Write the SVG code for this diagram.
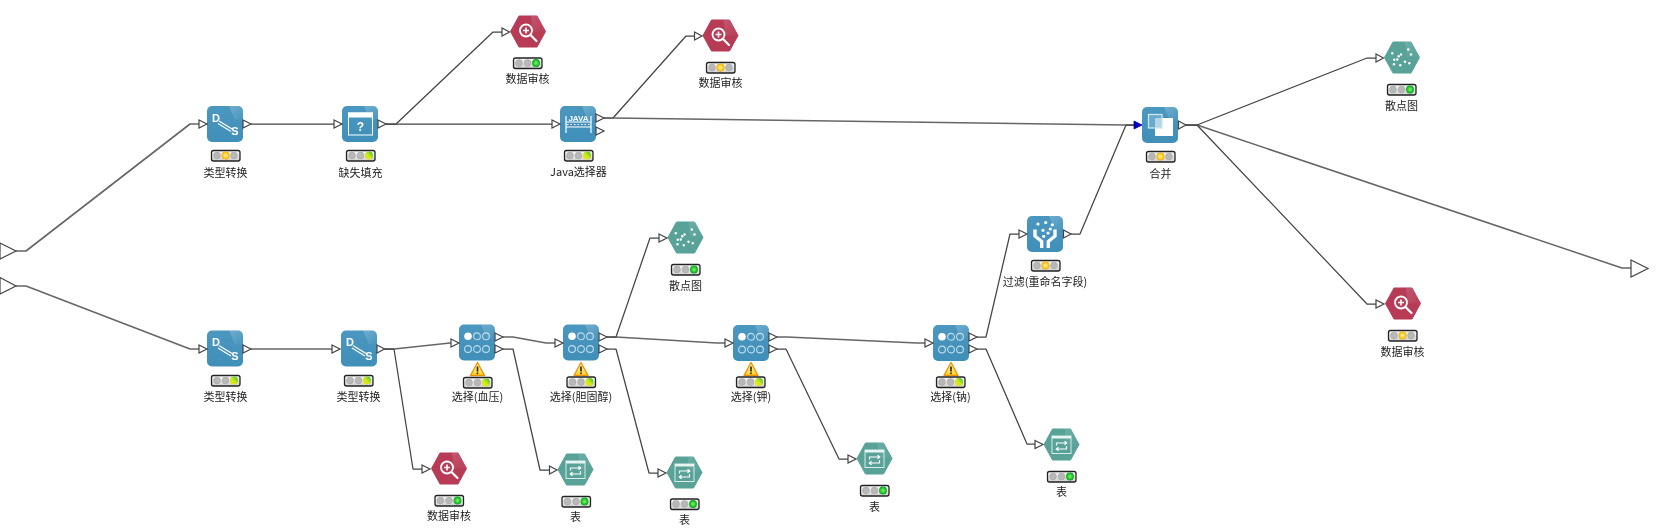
<svg xmlns="http://www.w3.org/2000/svg" width="1672" height="530" viewBox="0 0 1672 530">
<style>
text{font-family:"Noto Sans CJK SC","Noto Sans",sans-serif}
.lb{font-size:11px;fill:#222;text-anchor:middle}
.ic{font-family:"Liberation Sans",Arial,sans-serif;font-weight:bold;fill:#fff;text-anchor:middle}
.c{fill:none;stroke:#444;stroke-width:1.25;stroke-linejoin:round}
.h{stroke:#666;stroke-width:1.6}
.w{fill:none;stroke:#fff;stroke-width:1.2}
.pt{fill:#fff;stroke:#444;stroke-width:1.2;stroke-linejoin:miter}
.d{fill:#fff}
.off{fill:#b8b8b8;stroke:#a0a0a0;stroke-width:.5}
</style>
<defs>
<filter id="soft" x="0" y="0" width="1672" height="530" filterUnits="userSpaceOnUse"><feGaussianBlur stdDeviation="0.3"/></filter>
<linearGradient id="gb" x1="0" y1="0" x2="0" y2="1"><stop offset="0" stop-color="#4a97c0"/><stop offset="1" stop-color="#408fb9"/></linearGradient>
<linearGradient id="gl" x1="0" y1="0" x2="1" y2="1"><stop offset="0" stop-color="#fff" stop-opacity=".42"/><stop offset="1" stop-color="#fff" stop-opacity=".03"/></linearGradient>
<linearGradient id="lg" x1="0" y1="0" x2="0" y2="1"><stop offset="0" stop-color="#fafafa"/><stop offset="1" stop-color="#d0d0d0"/></linearGradient>
<linearGradient id="wg" x1="0" y1="0" x2="0" y2="1"><stop offset="0" stop-color="#fff6c0"/><stop offset="1" stop-color="#ffd21e"/></linearGradient>
<radialGradient id="ry"><stop offset="0" stop-color="#fff3b0"/><stop offset=".6" stop-color="#ffd42a"/><stop offset="1" stop-color="#f5a800"/></radialGradient>
<radialGradient id="rg"><stop offset="0" stop-color="#8cf07a"/><stop offset=".65" stop-color="#22cc22"/><stop offset="1" stop-color="#0fa02a"/></radialGradient>
<linearGradient id="rp" x1="0" y1="1" x2="1" y2="0"><stop offset="0" stop-color="#ffe600"/><stop offset=".5" stop-color="#c8e81a"/><stop offset="1" stop-color="#22c030"/></linearGradient>

<g id="box"><rect x="-18" y="-18" width="36" height="36" rx="5" fill="url(#gb)"/><path d="M4-18H13a5 5 0 0 1 5 5V-4L10-4Z" fill="url(#gl)" opacity=".5"/></g>
<g id="hr"><path d="M-17.500 0-9-15.500H9L17.500 0 9 15.500H-9Z" fill="#b83a56" stroke="#b83a56" stroke-linejoin="round"/><path d="M3-15.500H9L17.500 0H5Z" fill="url(#gl)" opacity=".35"/></g>
<g id="ht"><path d="M-17.500 0-9-15.500H9L17.500 0 9 15.500H-9Z" fill="#58a298" stroke="#58a298" stroke-linejoin="round"/><path d="M3-15.500H9L17.500 0H5Z" fill="url(#gl)" opacity=".3"/></g>

<g id="l"><rect x="-14" y="-5" width="28.500" height="10.500" rx="2" fill="url(#lg)" stroke="#222" stroke-width="1.300"/><circle class="off" cx="-8.500" r="3.400"/><circle class="off" cx="0" r="3.400"/><circle class="off" cx="8.500" r="3.400"/></g>
<g id="ly"><use href="#l"/><circle r="3.900" fill="url(#ry)"/></g>
<g id="lg1"><use href="#l"/><circle cx="8.500" r="3.900" fill="url(#rg)"/></g>
<g id="lp"><use href="#l"/><circle cx="8.500" r="3.900" fill="url(#rp)"/></g>

<g id="warn"><path d="M0-7 7 6H-7Z" fill="url(#wg)" stroke="#f09000" stroke-width="1.300" stroke-linejoin="round"/><rect x="-.8" y="-3" width="1.600" height="5" fill="#222"/><rect x="-.8" y="3" width="1.600" height="1.600" fill="#222"/></g>

<g id="i-ds"><text class="ic" x="-9" y="-2.500" font-size="11">D</text><text class="ic" x="10" y="11" font-size="11">S</text><path class="w" d="M-6-3 7 5M-7-.5 6 7.500"/></g>
<g id="i-sel"><circle class="d" cx="-9" cy="-6.200" r="3.800"/><g fill="none" stroke="#c4deec" stroke-width="1.100"><circle cx="0" cy="-6.200" r="3.400"/><circle cx="9" cy="-6.200" r="3.400"/><circle cx="-9" cy="6.500" r="3.400"/><circle cx="0" cy="6.500" r="3.400"/><circle cx="9" cy="6.500" r="3.400"/></g></g>
<g id="i-aud"><circle cx="-2" cy="-1" r="6" fill="none" stroke="#fff" stroke-width="1.800"/><path d="M-5-1H1M-2-4V2" stroke="#fff" stroke-width="1.600"/><path d="M3 4 8.500 9.500" stroke="#fff" stroke-width="2.200" stroke-linecap="round"/></g>
<g id="i-sc" class="d"><circle cx="-9.700" cy="-4.300" r="1.200"/><circle cx="-1" cy="-3" r="1.200"/><circle cx="6.300" cy="-8" r="1.200"/><circle cx="9" cy="-3" r="1.200"/><circle cx="-3.300" cy="-1.300" r="1.200"/><circle cx="-7.700" cy="2.300" r="1.200"/><circle cx="3" cy="4.300" r="1.200"/><circle cx="7.300" cy="5.700" r="1.200"/><circle cx="-8" cy="6.700" r="1.200"/><circle cx="-1.700" cy="7.700" r="1.200"/><circle cx="-4.700" cy="2" r="1.200"/></g>
<g id="i-tab"><rect x="-9.500" y="-8.500" width="19" height="17.500" fill="none" stroke="#d8ecea" stroke-width="1"/><rect x="-9.500" y="-8.500" width="19" height="2.500" fill="#e8f4f2"/><path d="M-5 1V-1.500H5M3-3.300 5.200-1.500 3 .3M5 1.500V4.500H-5M-3 2.700-5.200 4.500-3 6.300" fill="none" stroke="#fff" stroke-width="1.200"/></g>
</defs>

<g filter="url(#soft)">
<g id="connectors">
<polyline class="c h" points="16,251 26,251 190,124 199,124"/>
<polyline class="c h" points="16,286 26,286 190,349 199,349"/>
<polyline class="c" points="251,124 342,124"/>
<polyline class="c" points="386,124 552,124"/>
<polyline class="c" points="386,124 396,124 493,32 502,32"/>
<polyline class="c" points="604,118 613,118 686,36 694,36"/>
<polyline class="c h" points="604,118 613,118 1126,125 1134,125"/>
<polyline class="c" points="1071,234 1080,234 1126,125 1134,125"/>
<polyline class="c" points="1186,125 1197,125 1367,58 1376,58"/>
<polyline class="c h" points="1186,125 1197,125 1622,268 1631,268"/>
<polyline class="c" points="1186,125 1197,125 1367,304 1376,304"/>
<polyline class="c h" points="251,349 332,349"/>
<polyline class="c h" points="384,349 394,349 450,343 451,343"/>
<polyline class="c" points="384,349 394,349 413,469 422,469"/>
<polyline class="c h" points="503,337 513,337 546,343 555,343"/>
<polyline class="c" points="503,349 513,349 540,470 549,470"/>
<polyline class="c h" points="607,337 616,337 717,343 725,343"/>
<polyline class="c" points="607,337 616,337 650,238 659,238"/>
<polyline class="c" points="607,349 616,349 649,473 658,473"/>
<polyline class="c h" points="777,337 787,337 917,343 925,343"/>
<polyline class="c" points="777,349 786,349 839,459 848,459"/>
<polyline class="c" points="977,337 986,337 1010,234 1019,234"/>
<polyline class="c" points="977,349 986,349 1027,444 1035,444"/>
</g>

<g id="in1"><path class="pt" d="M0 243 16 251 0 259Z"/></g>
<g id="in2"><path class="pt" d="M0 277.500 16 286 0 294Z"/></g>
<g id="out1"><path class="pt" d="M1631 260 1648 268.500 1631 277Z"/></g>

<g id="n-ds1"><use href="#box" x="225" y="124"/><use href="#i-ds" x="225" y="124"/><path class="pt" d="M199 120 207 124 199 128ZM243 120 251 124 243 128Z"/><use href="#ly" x="225.500" y="155.500"/><text class="lb" x="225.500" y="177">类型转换</text></g>

<g id="n-fill"><use href="#box" x="360" y="124"/><rect x="348.500" y="113" width="24" height="22" fill="none" stroke="#fff"/><rect x="348" y="112.500" width="25" height="5" fill="#fff"/><text class="ic" x="360.500" y="131" font-size="12">?</text><path class="pt" d="M334 120 342 124 334 128ZM378 120 386 124 378 128Z"/><use href="#lp" x="360.500" y="155.500"/><text class="lb" x="360.500" y="177">缺失填充</text></g>

<g id="n-java"><use href="#box" x="578" y="124"/><text class="ic" x="578.500" y="120.500" font-size="8">JAVA</text><path class="w" d="M566 116V133M591 116V133M566 122H591M566 127H591"/><path d="M567 124.500H591" stroke="#fff" stroke-width="1" stroke-dasharray="1.500 2"/><path class="pt" d="M552 120 560 124 552 128ZM596 114 604 118 596 122ZM596 127 604 131 596 135Z"/><use href="#lp" x="578.500" y="155.500"/><text class="lb" x="578.500" y="176">Java选择器</text></g>

<g id="n-audit1"><use href="#hr" x="528" y="31.500"/><use href="#i-aud" x="528" y="31.500"/><path class="pt" d="M502 28 509.500 32 502 36Z"/><use href="#lg1" x="527.500" y="63"/><text class="lb" x="527.500" y="83">数据审核</text></g>

<g id="n-audit2"><use href="#hr" x="720.500" y="35.500"/><use href="#i-aud" x="720.500" y="35.500"/><path class="pt" d="M694.500 32 702 36 694.500 40Z"/><use href="#ly" x="720.500" y="67.500"/><text class="lb" x="720.500" y="87">数据审核</text></g>

<g id="n-merge"><use href="#box" x="1160" y="125"/><path d="M1155 118H1173V136H1155Z" fill="#fff"/><rect x="1148.500" y="114.500" width="13.500" height="13.500" fill="#7fb8d6" fill-opacity=".6" stroke="#cfe5f0" stroke-width="1.300"/><path d="M1134 121 1142 125 1134 129Z" fill="#0000c8" stroke="#000090" stroke-width=".8"/><path class="pt" d="M1178.500 121 1186 125 1178.500 129Z"/><use href="#ly" x="1160.500" y="156.500"/><text class="lb" x="1160.500" y="178">合并</text></g>

<g id="n-scatter1"><use href="#ht" x="1402" y="57.500"/><use href="#i-sc" x="1402" y="57.500"/><path class="pt" d="M1376 54 1383.500 58 1376 62Z"/><use href="#lg1" x="1401.500" y="89.500"/><text class="lb" x="1401.500" y="110">散点图</text></g>

<g id="n-audit3"><use href="#hr" x="1403" y="303.500"/><use href="#i-aud" x="1403" y="303.500"/><path class="pt" d="M1376 300 1384 304 1376 308Z"/><use href="#ly" x="1402.500" y="335.500"/><text class="lb" x="1402.500" y="356">数据审核</text></g>

<g id="n-ds2"><use href="#box" x="225" y="348.500"/><use href="#i-ds" x="225" y="348.500"/><path class="pt" d="M199 345 207 349 199 353ZM243 345 251 349 243 353Z"/><use href="#lp" x="225.500" y="380.500"/><text class="lb" x="225.500" y="401">类型转换</text></g>

<g id="n-ds3"><use href="#box" x="359" y="348.500"/><use href="#i-ds" x="359" y="348.500"/><path class="pt" d="M332 345 340 349 332 353ZM377 345 384.500 349 377 353Z"/><use href="#lp" x="358.500" y="380.500"/><text class="lb" x="358.500" y="401">类型转换</text></g>

<g id="n-audit4"><use href="#hr" x="449" y="468.500"/><use href="#i-aud" x="449" y="468.500"/><path class="pt" d="M422 465 430 469 422 473Z"/><use href="#lg1" x="449" y="500.500"/><text class="lb" x="449" y="520">数据审核</text></g>

<g id="n-sel1"><use href="#box" x="477" y="342.500"/><use href="#i-sel" x="477" y="342.500"/><path class="pt" d="M451 339 459 343 451 347ZM495 333 503 337 495 341ZM495 345 503 349 495 353Z"/><use href="#warn" x="477.500" y="369.500"/><use href="#lp" x="477.500" y="382.500"/><text class="lb" x="477.500" y="401">选择(血压)</text></g>

<g id="n-sel2"><use href="#box" x="581" y="342.500"/><use href="#i-sel" x="581" y="342.500"/><path class="pt" d="M555 339 563 343 555 347ZM599 333 607 337 599 341ZM599 345 607 349 599 353Z"/><use href="#warn" x="581" y="369.500"/><use href="#lp" x="581" y="382"/><text class="lb" x="581" y="401">选择(胆固醇)</text></g>

<g id="n-sel3"><use href="#box" x="751" y="343"/><use href="#i-sel" x="751" y="343"/><path class="pt" d="M725 339 733 343 725 347ZM769 333 777 337 769 341ZM769 345 777 349 769 353Z"/><use href="#warn" x="751" y="369.500"/><use href="#lp" x="750.500" y="382"/><text class="lb" x="751" y="401">选择(钾)</text></g>

<g id="n-sel4"><use href="#box" x="951" y="343"/><use href="#i-sel" x="951" y="343"/><path class="pt" d="M925 339 933 343 925 347ZM969 333 977 337 969 341ZM969 345 977 349 969 353Z"/><use href="#warn" x="951" y="369.500"/><use href="#lp" x="950.500" y="382"/><text class="lb" x="950.500" y="401">选择(钠)</text></g>

<g id="n-scatter2"><use href="#ht" x="685.500" y="237.500"/><use href="#i-sc" x="685.500" y="237.500"/><path class="pt" d="M659 234 667 238 659 242Z"/><use href="#lg1" x="685.500" y="269.500"/><text class="lb" x="685.500" y="290">散点图</text></g>

<g id="n-filter"><use href="#box" x="1045" y="234"/><g fill="#fff"><circle cx="1038" cy="224" r="1.600"/><circle cx="1045.700" cy="222.500" r="1.600"/><circle cx="1052.300" cy="224.800" r="1.600"/><circle cx="1043" cy="230.300" r="1.600"/><circle cx="1048" cy="233" r="1.600"/><circle cx="1043.700" cy="236.300" r="1.600"/><circle cx="1050.300" cy="229" r="1.600"/></g><path d="M1035 229.500V236L1041.700 241.500V248M1055 229.500V236L1048.300 241.500V248" fill="none" stroke="#fff" stroke-width="3.400"/><path class="pt" d="M1019 230 1027 234 1019 238ZM1063.500 230 1071 234 1063.500 238Z"/><use href="#ly" x="1045.500" y="265.500"/><text class="lb" x="1045" y="286">过滤(重命名字段)</text></g>

<g id="n-tab1"><use href="#ht" x="575.500" y="469.500"/><use href="#i-tab" x="575.500" y="469.500"/><path class="pt" d="M549.500 466 557 470 549.500 474Z"/><use href="#lg1" x="576" y="501.500"/><text class="lb" x="575.500" y="521">表</text></g>

<g id="n-tab2"><use href="#ht" x="684.500" y="472.500"/><use href="#i-tab" x="684.500" y="472.500"/><path class="pt" d="M658 469 666 473 658 477Z"/><use href="#lg1" x="684.500" y="504"/><text class="lb" x="684.500" y="524">表</text></g>

<g id="n-tab3"><use href="#ht" x="874.500" y="458.500"/><use href="#i-tab" x="874.500" y="458.500"/><path class="pt" d="M848 455 856 459 848 463Z"/><use href="#lg1" x="874.500" y="490.500"/><text class="lb" x="874.500" y="511">表</text></g>

<g id="n-tab4"><use href="#ht" x="1061.500" y="444.500"/><use href="#i-tab" x="1061.500" y="444.500"/><path class="pt" d="M1035 440.500 1043 444.500 1035 448.500Z"/><use href="#lg1" x="1061.500" y="476.500"/><text class="lb" x="1061.500" y="496">表</text></g>
</g>
</svg>
